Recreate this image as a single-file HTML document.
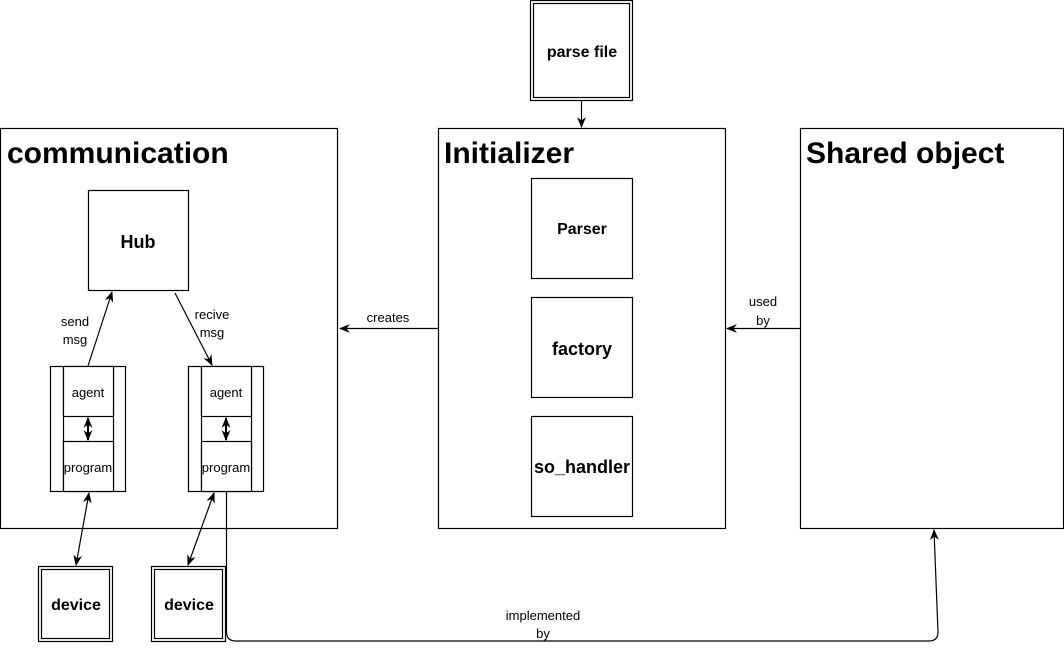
<!DOCTYPE html>
<html><head><style>body{margin:0;background:#fff}svg{display:block}text{font-family:"Liberation Sans",sans-serif;fill:#000}</style></head>
<body>
<svg width="1064" height="652" viewBox="0 0 1064 652" xmlns="http://www.w3.org/2000/svg">
<defs><marker id="a" viewBox="0 0 10 10" refX="9" refY="5" markerWidth="11" markerHeight="11" orient="auto-start-reverse" markerUnits="userSpaceOnUse"><path d="M0,1 L10,5 L0,9 L3,5 z" fill="#000"/></marker></defs>
<g fill="#fff" stroke="#000" stroke-width="1.2">
<rect x="0.5" y="128.5" width="337" height="400"/>
<rect x="438.5" y="128.5" width="287" height="400"/>
<rect x="800.5" y="128.5" width="263" height="400"/>
<rect x="530.5" y="0.5" width="102" height="100"/><rect x="533.5" y="3.5" width="96" height="94"/>
<rect x="88.5" y="190.5" width="100" height="100"/>
<rect x="531.5" y="178.5" width="101" height="100"/>
<rect x="531.5" y="297.5" width="101" height="100"/>
<rect x="531.5" y="416.5" width="101" height="100"/>
<rect x="50.5" y="366.5" width="75" height="125"/><line x1="63.5" y1="366" x2="63.5" y2="491"/><line x1="113.5" y1="366" x2="113.5" y2="491"/>
<rect x="63.5" y="366.5" width="50" height="50"/><rect x="63.5" y="441.5" width="50" height="50"/>
<rect x="188.5" y="366.5" width="75" height="125"/><line x1="201.5" y1="366" x2="201.5" y2="491"/><line x1="251.5" y1="366" x2="251.5" y2="491"/>
<rect x="201.5" y="366.5" width="50" height="50"/><rect x="201.5" y="441.5" width="50" height="50"/>
<rect x="38.5" y="566.5" width="74" height="75"/><rect x="41.5" y="569.5" width="68" height="69"/>
<rect x="151.5" y="566.5" width="74" height="75"/><rect x="154.5" y="569.5" width="68" height="69"/>
</g>
<g fill="none" stroke="#000" stroke-width="1.2">
<line x1="581.5" y1="101" x2="581.5" y2="127" marker-end="url(#a)"/>
<line x1="438" y1="328.5" x2="340" y2="328.5" marker-end="url(#a)"/>
<line x1="800" y1="328.5" x2="727" y2="328.5" marker-end="url(#a)"/>
<line x1="88" y1="366" x2="112" y2="292" marker-end="url(#a)"/>
<line x1="175" y1="293" x2="212" y2="365" marker-end="url(#a)"/>
<line x1="88" y1="418" x2="88" y2="440" stroke-width="2" marker-start="url(#a)" marker-end="url(#a)"/>
<line x1="226" y1="418" x2="226" y2="440" stroke-width="2" marker-start="url(#a)" marker-end="url(#a)"/>
<line x1="89" y1="493" x2="76" y2="565" marker-start="url(#a)" marker-end="url(#a)"/>
<line x1="214" y1="493" x2="188" y2="565" marker-start="url(#a)" marker-end="url(#a)"/>
<path d="M226.5,491 L226.5,632 Q226.5,641 236,641 L929,641 Q938,641 938,632 L934,530" marker-end="url(#a)"/>
</g>
<g font-weight="bold">
<text x="7" y="163" font-size="30">communication</text>
<text x="444" y="163" font-size="30">Initializer</text>
<text x="806" y="163" font-size="30">Shared object</text>
<text x="582" y="57" font-size="16" text-anchor="middle">parse file</text>
<text x="138" y="248" font-size="18" text-anchor="middle">Hub</text>
<text x="582" y="234" font-size="16" text-anchor="middle">Parser</text>
<text x="582" y="355" font-size="18" text-anchor="middle">factory</text>
<text x="582" y="473" font-size="18" text-anchor="middle">so_handler</text>
<text x="76" y="610" font-size="16" text-anchor="middle">device</text>
<text x="189" y="610" font-size="16" text-anchor="middle">device</text>
</g>
<g font-size="13" text-anchor="middle">
<text x="88" y="397">agent</text><text x="88" y="472">program</text>
<text x="226" y="397">agent</text><text x="226" y="472">program</text>
<text x="75" y="326">send</text><text x="75" y="344">msg</text>
<text x="212" y="319">recive</text><text x="212" y="337">msg</text>
<rect x="360" y="310" width="56" height="16" fill="#fff"/>
<text x="388" y="322">creates</text>
<text x="763" y="306">used</text><text x="763" y="325">by</text>
<rect x="495" y="606" width="96" height="34" fill="#fff"/>
<text x="543" y="620">implemented</text><text x="543" y="638">by</text>
</g>
</svg>
</body></html>
